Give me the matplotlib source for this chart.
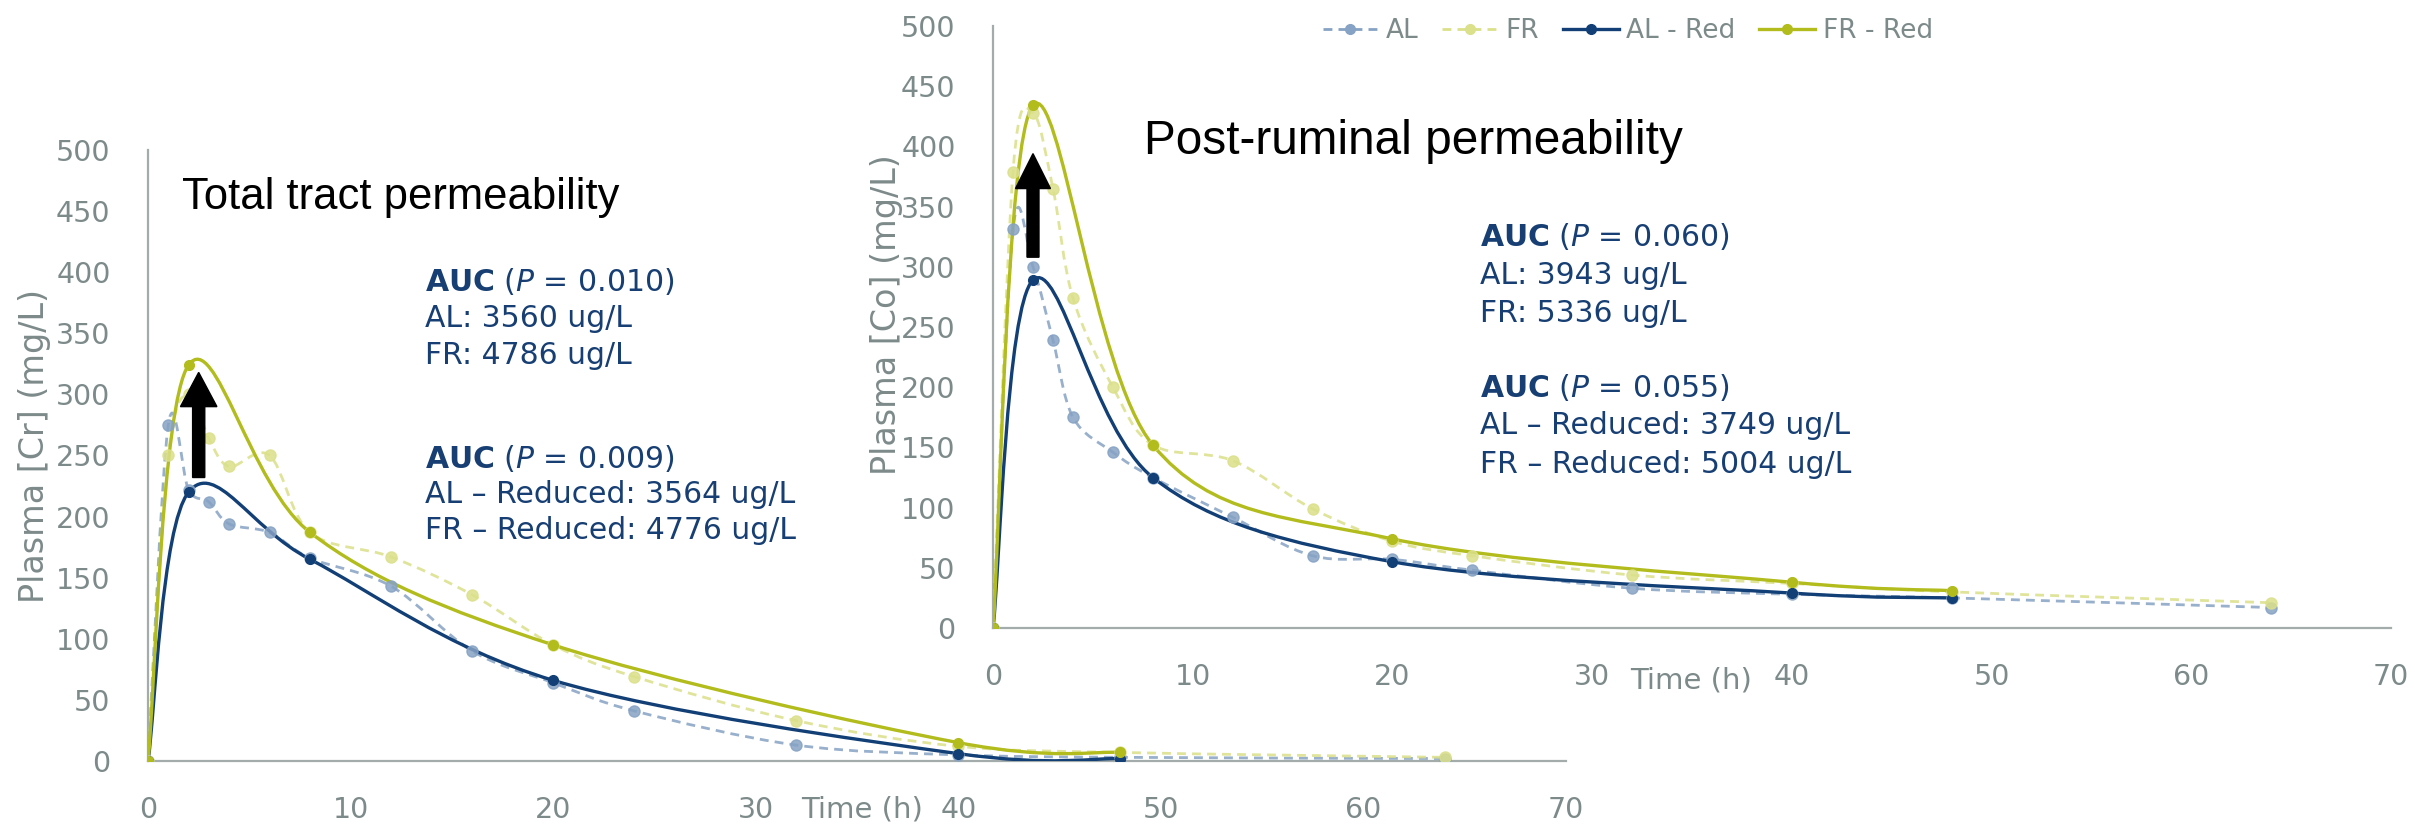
import numpy as np
import matplotlib.pyplot as plt
from matplotlib.path import Path
from matplotlib.patches import PathPatch
from matplotlib.lines import Line2D

plt.rcParams["font.family"] = ["DejaVu Sans"]
plt.rcParams["mathtext.fontset"] = "custom"
plt.rcParams["mathtext.rm"] = "DejaVu Sans"
plt.rcParams["mathtext.it"] = "DejaVu Sans:italic"
plt.rcParams["mathtext.bf"] = "DejaVu Sans:bold"

# sampling times (h)
t_full = [0, 1, 2, 3, 4, 6, 8, 12, 16, 20, 24, 32, 40, 48, 64]
t_red = [0, 2, 8, 20, 40, 48]

# total tract (Cr), mg/L
cr_al = [0, 275, 222, 212, 194, 187, 166, 143, 90, 64, 41, 13, 5, 3, 2]
cr_fr = [0, 250, 300, 264, 241, 250, 187, 167, 136, 95, 69, 33, 12, 7, 3]
cr_al_red = [0, 220, 165, 66, 6, 2]
cr_fr_red = [0, 324, 187, 95, 15, 7]

# post-ruminal (Co), mg/L
co_al = [0, 331, 300, 239, 175, 146, 125, 92, 60, 57, 48, 33, 28, 25, 17]
co_fr = [0, 379, 428, 365, 274, 200, 152, 139, 99, 72, 60, 44, 37, 30, 21]
co_al_red = [0, 289, 125, 55, 29, 25]
co_fr_red = [0, 434, 152, 74, 38, 31]

series_names = ["AL", "FR", "AL - Red", "FR - Red"]
x_ticks = [0, 10, 20, 30, 40, 50, 60, 70]
y_ticks = [0, 50, 100, 150, 200, 250, 300, 350, 400, 450, 500]

NAVY = "#123f75"
OLIVE = "#b2bc1c"
AL_LIGHT = "#86a2c4"
FR_LIGHT = "#dbe08a"
GREY = "#7d8a8a"
SPINE = "#a3abab"
TXT = "#173f73"


def smooth_path(x, y):
    # excel style smoothed line: catmull-rom as cubic beziers
    p = np.column_stack([x, y]).astype(float)
    verts = [p[0]]
    codes = [Path.MOVETO]
    n = len(p)
    for i in range(n - 1):
        p0 = p[i - 1] if i > 0 else p[i]
        p3 = p[i + 2] if i + 2 < n else p[i + 1]
        c1 = p[i] + (p[i + 1] - p0) / 6
        c2 = p[i + 1] - (p3 - p[i]) / 6
        verts += [c1, c2, p[i + 1]]
        codes += [Path.CURVE4] * 3
    return Path(verts, codes)


def draw_series(ax, x, y, color, dashed, alpha):
    ls = (0, (3.2, 2.2)) if dashed else "-"
    lw = 2.0 if dashed else 2.4
    ms = 8 if dashed else 7
    ax.add_patch(PathPatch(smooth_path(x, y), fill=False, edgecolor=color,
                           lw=lw, linestyle=ls, alpha=alpha, zorder=3))
    ax.plot(x, y, ls="none", marker="o", ms=ms, color=color, alpha=alpha, zorder=4)


def setup(ax, ylab, xlab_pos, ylab_pos):
    ax.set_xlim(0, 70)
    ax.set_ylim(0, 500)
    ax.set_xticks(x_ticks)
    ax.set_yticks(y_ticks)
    ax.set_facecolor("none")
    for s in ["top", "right"]:
        ax.spines[s].set_visible(False)
    for s in ["left", "bottom"]:
        ax.spines[s].set_color(SPINE)
        ax.spines[s].set_linewidth(1.6)
    ax.tick_params(axis="x", length=0, pad=25, labelsize=20.5, labelcolor=GREY)
    ax.tick_params(axis="y", length=0, pad=27, labelsize=20.5, labelcolor=GREY)
    ax.text(xlab_pos[0], xlab_pos[1], "Time (h)", transform=ax.transAxes,
            ha="center", va="center", fontsize=21, color=GREY)
    ax.text(ylab_pos[0], ylab_pos[1], ylab, transform=ax.transAxes, rotation=90,
            ha="center", va="center", fontsize=24, color=GREY)


def auc_block(ax, x, y, p, lines, step):
    ax.text(x, y, r"$\mathbf{AUC}$ ($\mathit{P}$ = " + p + ")", transform=ax.transAxes,
            ha="left", va="center", fontsize=21.5, color=TXT)
    for k, s in enumerate(lines):
        ax.text(x, y - (k + 1) * step, s, transform=ax.transAxes,
                ha="left", va="center", fontsize=21.5, color=TXT)


fig = plt.figure(figsize=(24.15, 8.26), dpi=100)

ax1 = fig.add_axes([0.0613, 0.0787, 0.5872, 0.7397])
ax2 = fig.add_axes([0.4112, 0.2397, 0.5789, 0.7288])

# left: total tract
draw_series(ax1, t_full, cr_al, AL_LIGHT, True, 0.85)
draw_series(ax1, t_full, cr_fr, FR_LIGHT, True, 0.85)
draw_series(ax1, t_red, cr_al_red, NAVY, False, 1)
draw_series(ax1, t_red, cr_fr_red, OLIVE, False, 1)
setup(ax1, "Plasma [Cr] (mg/L)", (0.5035, -0.08), (-0.080, 0.515))
ax1.arrow(2.5, 232, 0, 86, width=0.6, head_width=1.8, head_length=28,
          length_includes_head=True, color="black", zorder=6)
ax1.text(0.024, 0.923, "Total tract permeability", transform=ax1.transAxes,
         fontsize=31.4, family="Liberation Sans", color="black", va="center")
auc_block(ax1, 0.195, 0.785, "0.010", ["AL: 3560 ug/L", "FR: 4786 ug/L"], 0.0605)
auc_block(ax1, 0.195, 0.495, "0.009", ["AL \u2013 Reduced: 3564 ug/L",
                                       "FR \u2013 Reduced: 4776 ug/L"], 0.0585)

# right: post-ruminal
draw_series(ax2, t_full, co_al, AL_LIGHT, True, 0.85)
draw_series(ax2, t_full, co_fr, FR_LIGHT, True, 0.85)
draw_series(ax2, t_red, co_al_red, NAVY, False, 1)
draw_series(ax2, t_red, co_fr_red, OLIVE, False, 1)
setup(ax2, "Plasma [Co] (mg/L)", (0.499, -0.088), (-0.0765, 0.52))
ax2.arrow(2.0, 308, 0, 86, width=0.6, head_width=1.75, head_length=29,
          length_includes_head=True, color="black", zorder=6)
ax2.text(0.108, 0.808, "Post-ruminal permeability", transform=ax2.transAxes,
         fontsize=34.4, family="Liberation Sans", color="black", va="center")
auc_block(ax2, 0.348, 0.65, "0.060", ["AL: 3943 ug/L", "FR: 5336 ug/L"], 0.064)
auc_block(ax2, 0.348, 0.40, "0.055", ["AL \u2013 Reduced: 3749 ug/L",
                                      "FR \u2013 Reduced: 5004 ug/L"], 0.064)

handles = [
    Line2D([], [], color=AL_LIGHT, ls=(0, (3.2, 2.2)), lw=2, marker="o", ms=7),
    Line2D([], [], color=FR_LIGHT, ls=(0, (3.2, 2.2)), lw=2, marker="o", ms=7),
    Line2D([], [], color=NAVY, lw=2.4, marker="o", ms=7),
    Line2D([], [], color=OLIVE, lw=2.4, marker="o", ms=7),
]
fig.legend(handles, series_names, loc="center", bbox_to_anchor=(0.674, 0.962),
           ncol=4, frameon=False, fontsize=19, labelcolor=GREY,
           handlelength=2.1, columnspacing=0.9, handletextpad=0.3)

fig.savefig("out.png", dpi=100)
